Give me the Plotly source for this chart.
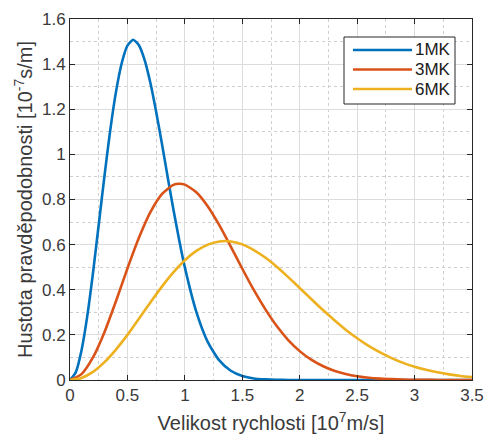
import plotly.graph_objects as go

# Speed samples [10^7 m/s] and probability density [10^-7 s/m]
v_1mk = [0, 0.05, 0.1, 0.15, 0.2, 0.25, 0.3, 0.35, 0.4, 0.45, 0.5, 0.55, 0.6, 0.65,
         0.7, 0.75, 0.8, 0.85, 0.9, 0.95, 1.0, 1.1, 1.2, 1.3, 1.4, 1.5, 1.6, 1.7,
         1.8, 1.9, 2.0, 2.5, 3.0, 3.5]
f_1mk = [0, 0.034, 0.131, 0.282, 0.474, 0.688, 0.904, 1.106, 1.276, 1.404, 1.482,
         1.508, 1.484, 1.418, 1.316, 1.189, 1.048, 0.901, 0.757, 0.622, 0.499,
         0.302, 0.168, 0.087, 0.041, 0.018, 0.007, 0.003, 0.001, 0.0003, 0.0001,
         0, 0, 0]

v_3mk = [0, 0.1, 0.2, 0.3, 0.4, 0.5, 0.6, 0.7, 0.8, 0.9, 0.95, 1.0, 1.1, 1.2, 1.3,
         1.4, 1.5, 1.6, 1.7, 1.8, 1.9, 2.0, 2.1, 2.2, 2.3, 2.4, 2.5, 2.6, 2.7, 2.8,
         2.9, 3.0, 3.1, 3.2, 3.3, 3.4, 3.5]
f_3mk = [0, 0.026, 0.100, 0.212, 0.349, 0.494, 0.630, 0.744, 0.824, 0.865, 0.870,
         0.866, 0.832, 0.769, 0.686, 0.591, 0.493, 0.399, 0.314, 0.239, 0.177,
         0.128, 0.090, 0.062, 0.041, 0.027, 0.017, 0.010, 0.006, 0.004, 0.002,
         0.001, 0.0006, 0.0003, 0.0002, 0.0001, 0.00005]

v_6mk = [0, 0.1, 0.2, 0.3, 0.4, 0.5, 0.6, 0.7, 0.8, 0.9, 1.0, 1.1, 1.2, 1.3, 1.35,
         1.4, 1.5, 1.6, 1.7, 1.8, 1.9, 2.0, 2.1, 2.2, 2.3, 2.4, 2.5, 2.6, 2.7, 2.8,
         2.9, 3.0, 3.1, 3.2, 3.3, 3.4, 3.5]
f_6mk = [0, 0.009, 0.036, 0.079, 0.135, 0.200, 0.272, 0.344, 0.414, 0.477, 0.531,
         0.572, 0.600, 0.614, 0.616, 0.614, 0.601, 0.576, 0.543, 0.502, 0.456,
         0.408, 0.359, 0.311, 0.266, 0.223, 0.185, 0.151, 0.122, 0.097, 0.076,
         0.059, 0.045, 0.034, 0.025, 0.018, 0.013]

labels = ["1MK", "3MK", "6MK"]
colors = ["#0072BD", "#D95319", "#EDB120"]

x_ticks = [0, 0.5, 1, 1.5, 2, 2.5, 3, 3.5]
x_ticktext = ["0", "0.5", "1", "1.5", "2", "2.5", "3", "3.5"]
y_ticks = [0, 0.2, 0.4, 0.6, 0.8, 1.0, 1.2, 1.4, 1.6]
y_ticktext = ["0", "0.2", "0.4", "0.6", "0.8", "1", "1.2", "1.4", "1.6"]

FONT = "Liberation Sans, Arial, sans-serif"
AXIS = "#262626"
TXT = "#3a3a3a"

fig = go.Figure()
for v, f, name, c in zip([v_1mk, v_3mk, v_6mk], [f_1mk, f_3mk, f_6mk], labels, colors):
    fig.add_trace(go.Scatter(x=v, y=f, mode="lines", name=name,
                             line=dict(color=c, width=2.6, shape="spline", smoothing=0.6),
                             showlegend=False))

axis_common = dict(
    showline=True, linecolor=AXIS, linewidth=1, mirror="ticks",
    ticks="inside", ticklen=5, tickcolor=AXIS, tickwidth=1,
    showgrid=True, gridcolor="#dcdcdc", gridwidth=1,
    zeroline=False, automargin=False,
    tickfont=dict(family=FONT, size=17, color=TXT),
)

fig.update_xaxes(range=[0, 3.5], tickvals=x_ticks, ticktext=x_ticktext,
                 minor=dict(dtick=0.25, showgrid=True, gridcolor="#cfcfcf",
                            griddash="dot", ticks=""),
                 title=dict(text="Velikost rychlosti [10<sup>7</sup>m/s]",
                            font=dict(family=FONT, size=20, color=TXT), standoff=11),
                 **axis_common)
fig.update_yaxes(range=[0, 1.6], tickvals=y_ticks, ticktext=y_ticktext,
                 minor=dict(dtick=0.1, showgrid=True, gridcolor="#cfcfcf",
                            griddash="dot", ticks=""),
                 title=dict(text="Hustota pravděpodobnosti [10<sup>-7</sup>s/m]",
                            font=dict(family=FONT, size=20, color=TXT), standoff=3),
                 **axis_common)

# Legend box drawn in paper coordinates
L, R, T, B = 344, 455, 37, 104
W, H = 485, 434
ml, mr, mt, mb = 70, 13, 19, 54
pw, ph = W - ml - mr, H - mt - mb

def px(x):
    return (x - ml) / pw

def py(y):
    return 1 - (y - mt) / ph

fig.add_shape(type="rect", xref="paper", yref="paper",
              x0=px(L), x1=px(R), y0=py(B), y1=py(T),
              line=dict(color=AXIS, width=1), fillcolor="white", layer="above")
for i, (name, c) in enumerate(zip(labels, colors)):
    yy = 50 + 19.5 * i
    fig.add_shape(type="line", xref="paper", yref="paper",
                  x0=px(353), x1=px(412), y0=py(yy), y1=py(yy),
                  line=dict(color=c, width=2.6), layer="above")
    fig.add_annotation(xref="paper", yref="paper", x=px(413), y=py(yy),
                       text=name, showarrow=False, xanchor="left", yanchor="middle",
                       font=dict(family=FONT, size=17, color="#1a1a1a"))

fig.update_layout(
    width=W, height=H,
    margin=dict(l=ml, r=mr, t=mt, b=mb),
    paper_bgcolor="white", plot_bgcolor="white",
    showlegend=False,
)

fig.write_html("out.html")
